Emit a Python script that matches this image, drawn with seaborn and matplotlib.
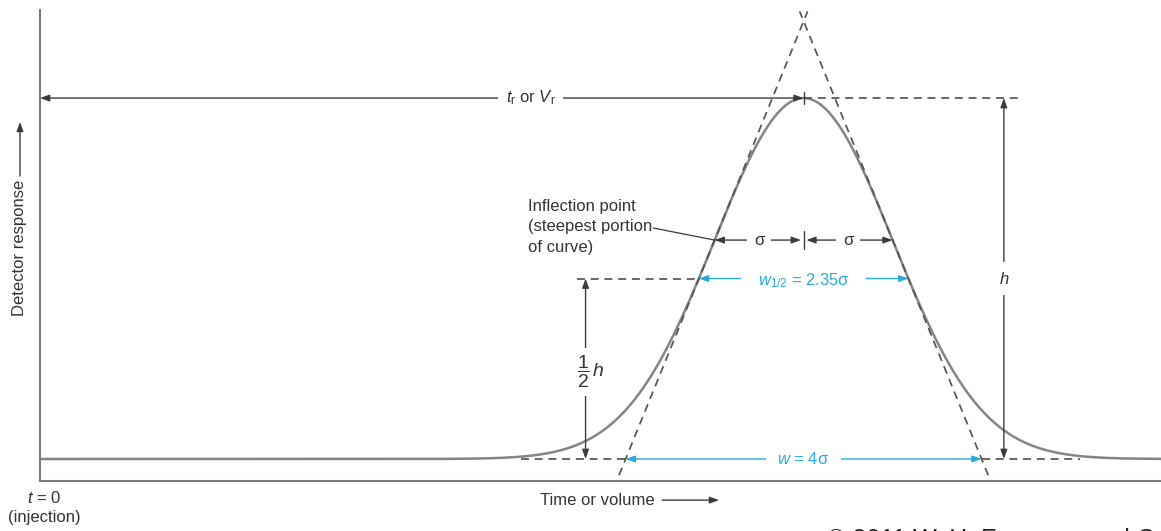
import numpy as np
import pandas as pd
import matplotlib
matplotlib.use("Agg")
import matplotlib.pyplot as plt
import seaborn as sns

# ---------------- data (time in units of sigma) ----------
peak_time = 8.58          # t_r, measured from injection (t = 0)
peak_sigma = 1.0          # sigma
peak_height = 1.0         # h
baseline_level = 0.0
time_end = 12.6           # right end of the recorded trace
left_baseline_dash_start = 5.40
right_baseline_dash_end = 11.69
top_dash_end = 11.03
half_dash_start = 6.03
h_arrow_time = 10.83
half_h_arrow_time = 6.13
tr_label_time = 5.51

# ---------------- style ----------------
sns.set_style("white")
plt.rcParams["font.family"] = ["Liberation Sans", "DejaVu Sans"]
plt.rcParams["mathtext.fontset"] = "custom"
plt.rcParams["mathtext.rm"] = "Liberation Sans"
plt.rcParams["mathtext.it"] = "Liberation Sans:italic"
plt.rcParams["mathtext.bf"] = "Liberation Sans:bold"

TXT = "#333333"
ARW = "#3c3c3c"
DASH = "#555555"
BLUE = "#2aa8e0"
CURVE = "#858585"
FS = 12

fig = plt.figure(figsize=(11.61, 5.31), dpi=100)
ax = fig.add_axes([40 / 1161, 50 / 531, 1 - 40 / 1161, 471 / 531])
ax.set_xlim(0, (1161 - 40) / 89.0)
ax.set_ylim(-0.061, 1.244)
for s in ["top", "right"]:
    ax.spines[s].set_visible(False)
for s in ["left", "bottom"]:
    ax.spines[s].set_color("#7a7a7a")
    ax.spines[s].set_linewidth(1.5)
ax.set_xticks([])
ax.set_yticks([])

# ---------------- Gaussian peak ----------------
t = np.linspace(0, time_end, 900)
resp = baseline_level + peak_height * np.exp(-0.5 * ((t - peak_time) / peak_sigma) ** 2)
df = pd.DataFrame({"time": t, "response": resp})
sns.lineplot(data=df, x="time", y="response", color=CURVE, lw=1.8, ax=ax, zorder=2)
ax.set_xlabel("")
ax.set_ylabel("")

# derived quantities
y_infl = baseline_level + peak_height * np.exp(-0.5)
slope = peak_height * np.exp(-0.5) / peak_sigma
half_w = np.sqrt(2 * np.log(2)) * peak_sigma
half_y = baseline_level + peak_height / 2
top_y = baseline_level + peak_height

dash_kw = dict(color=DASH, lw=1.25, dashes=(4.6, 3.3), zorder=3, clip_on=False)

# tangent lines through the inflection points
y_ext = np.array([-0.045, 1.24])
for sgn in (-1, 1):
    x_inf = peak_time + sgn * peak_sigma
    x_ext = x_inf - sgn * (y_ext - y_infl) / slope
    ax.plot(x_ext, y_ext, **dash_kw)

# dashed baseline extensions and reference levels
ax.plot([left_baseline_dash_start, peak_time - 2 * peak_sigma], [baseline_level] * 2, **dash_kw)
ax.plot([peak_time + 2 * peak_sigma, right_baseline_dash_end], [baseline_level] * 2, **dash_kw)
ax.plot([peak_time, top_dash_end], [top_y] * 2, **dash_kw)
ax.plot([half_dash_start, peak_time - half_w], [half_y] * 2, **dash_kw)


def arrow(p0, p1, color=ARW, style="<|-|>", lw=1.0):
    ax.annotate("", xy=p1, xytext=p0, annotation_clip=False,
                arrowprops=dict(arrowstyle=f"{style},head_length=0.55,head_width=0.2",
                                color=color, lw=lw, shrinkA=0, shrinkB=0,
                                mutation_scale=10), zorder=4)


def label(x, y, s, color=TXT, pad=0.3, **kw):
    ax.text(x, y, s, color=color, fontsize=kw.pop("fontsize", FS), ha=kw.pop("ha", "center"),
            va=kw.pop("va", "center"), zorder=6, clip_on=False,
            bbox=dict(facecolor="white", edgecolor="none", boxstyle=f"square,pad={pad}"), **kw)


# t_r arrow
arrow((0, top_y), (peak_time, top_y))
label(tr_label_time, top_y, r"$t_{\mathrm{r}}$ or $V_{\mathrm{r}}$", pad=0.45)
ax.plot([peak_time, peak_time], [top_y - 0.016, top_y + 0.016], color=ARW, lw=1.0, zorder=5)

# h arrow
arrow((h_arrow_time, baseline_level), (h_arrow_time, top_y))
label(h_arrow_time, half_y, r"$h$", pad=0.5)

# 1/2 h arrow
arrow((half_h_arrow_time, baseline_level), (half_h_arrow_time, half_y))
label(half_h_arrow_time + 0.06, (baseline_level + half_y) / 2 - 0.01, r"$\dfrac{1}{2}\,h$",
      pad=0.3, fontsize=14)

# sigma arrows at the inflection height
arrow((peak_time - peak_sigma, y_infl), (peak_time - 0.03, y_infl))
arrow((peak_time + 0.03, y_infl), (peak_time + peak_sigma, y_infl))
ax.plot([peak_time, peak_time], [y_infl - 0.024, y_infl + 0.024], color=ARW, lw=1.0, zorder=5)
label(peak_time - peak_sigma / 2, y_infl, "σ", pad=0.4)
label(peak_time + peak_sigma / 2, y_infl, "σ", pad=0.4)

# w1/2 (blue)
arrow((peak_time - half_w, half_y), (peak_time + half_w, half_y), color=BLUE)
label(peak_time, half_y - 0.005, r"$w_{1/2}$ = 2.35σ", color=BLUE, pad=1.0)

# w = 4 sigma (blue)
arrow((peak_time - 2 * peak_sigma, baseline_level), (peak_time + 2 * peak_sigma, baseline_level), color=BLUE)
label(peak_time, baseline_level, r"$w$ = 4σ", color=BLUE, pad=0.7)

# inflection point note
ax.text(5.48, 0.643, "Inflection point\n(steepest portion\nof curve)", color=TXT, fontsize=FS,
        ha="left", va="center", linespacing=1.45, zorder=6)
ax.plot([6.89, peak_time - peak_sigma], [0.640, y_infl], color=ARW, lw=0.9, zorder=5)

# axis captions
ax.text(-0.225, 0.584, "Detector response", rotation=90, color=TXT, fontsize=FS,
        ha="center", va="center", clip_on=False)
arrow((-0.225, 0.784), (-0.225, 0.934), style="-|>")
ax.text(5.62, -0.114, "Time or volume", color=TXT, fontsize=FS, ha="left", va="center", clip_on=False)
arrow((6.99, -0.114), (7.63, -0.114), style="-|>")
ax.text(0.045, -0.108, r"$t$ = 0", color=TXT, fontsize=FS, ha="center", va="center", clip_on=False)
ax.text(0.045, -0.163, "(injection)", color=TXT, fontsize=FS, ha="center", va="center", clip_on=False)

# credit line (cut off by the image edge, as in the reference)
ax.text(8.84, -0.191, "© 2011 W. H. Freeman and Company", color="#222222", fontsize=18,
        ha="left", va="top", clip_on=False)

fig.savefig("out.png", dpi=100)
